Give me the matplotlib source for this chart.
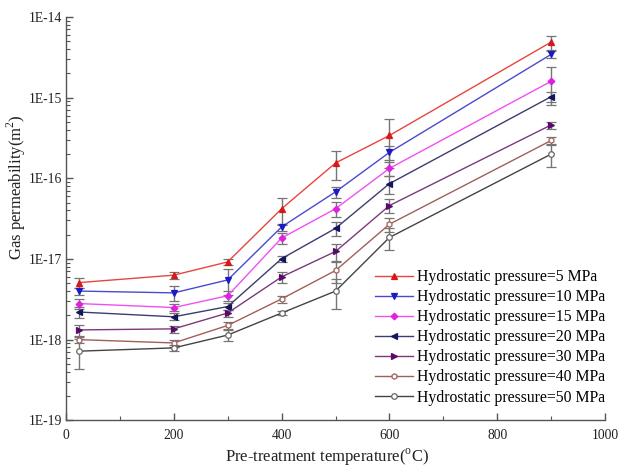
import numpy as np
import matplotlib
matplotlib.use("Agg")
from matplotlib import pyplot as plt
from matplotlib.ticker import LogLocator, FuncFormatter, MultipleLocator, NullFormatter

# Pre-treatment temperatures (degC)
temps = [25, 200, 300, 400, 500, 600, 900]

labels = ["Hydrostatic pressure=5 MPa", "Hydrostatic pressure=10 MPa",
          "Hydrostatic pressure=15 MPa", "Hydrostatic pressure=20 MPa",
          "Hydrostatic pressure=30 MPa", "Hydrostatic pressure=40 MPa",
          "Hydrostatic pressure=50 MPa"]

# gas permeability (m^2)
k_5 = [5.1e-18, 6.3e-18, 9.2e-18, 4.2e-17, 1.55e-16, 3.4e-16, 4.9e-15]
k_10 = [4.0e-18, 3.8e-18, 5.5e-18, 2.5e-17, 6.8e-17, 2.1e-16, 3.45e-15]
k_15 = [2.8e-18, 2.5e-18, 3.5e-18, 1.82e-17, 4.2e-17, 1.33e-16, 1.6e-15]
k_20 = [2.2e-18, 1.92e-18, 2.57e-18, 1.01e-17, 2.4e-17, 8.6e-17, 1.03e-15]
k_30 = [1.32e-18, 1.36e-18, 2.14e-18, 6.0e-18, 1.24e-17, 4.6e-17, 4.6e-16]
k_40 = [1.0e-18, 9.1e-19, 1.5e-18, 3.2e-18, 7.2e-18, 2.7e-17, 2.95e-16]
k_50 = [7.2e-19, 7.9e-19, 1.14e-18, 2.14e-18, 4.0e-18, 1.85e-17, 2.0e-16]

# relative error (fraction of value)
e_5 = [0.15, 0.1, 0.08, 0.37, 0.39, 0.6, 0.2]
e_10 = [0.1, 0.2, 0.35, 0.1, 0.15, 0.2, 0.1]
e_15 = [0.15, 0.1, 0.15, 0.15, 0.2, 0.2, 0.5]
e_20 = [0.15, 0.1, 0.1, 0.08, 0.2, 0.25, 0.15]
e_30 = [0.15, 0.1, 0.1, 0.15, 0.25, 0.2, 0.1]
e_40 = [0.08, 0.1, 0.1, 0.1, 0.3, 0.2, 0.1]
e_50 = [0.4, 0.08, 0.15, 0.05, 0.4, 0.3, 0.3]

series = [k_5, k_10, k_15, k_20, k_30, k_40, k_50]
errors = [e_5, e_10, e_15, e_20, e_30, e_40, e_50]
line_colors = ["#e8453c", "#4a4ad0", "#f050f0", "#3c3c70", "#7a3a7a", "#a0605a", "#444444"]
mk_colors = ["#d81818", "#1a1ac8", "#e020e0", "#141460", "#5a0a6a", "#a0605a", "#666666"]
markers = ["^", "v", "D", "<", ">", "h", "o"]
filled = [True, True, True, True, True, False, False]

plt.rcParams['font.family'] = ['Liberation Serif', 'DejaVu Serif']
plt.rcParams['mathtext.fontset'] = 'custom'
plt.rcParams['mathtext.rm'] = 'Liberation Serif'

fig = plt.figure(figsize=(6.22, 4.67), dpi=100)
ax = fig.add_axes([0.106, 0.1, 0.867, 0.8636])

for k, e, lc, mc, m, f, lab in zip(series, errors, line_colors, mk_colors, markers, filled, labels):
    k = np.array(k)
    err = k * np.array(e)
    ax.errorbar(temps, k, yerr=err, color=lc, ecolor="#757575", elinewidth=1.0,
                capsize=3.5, capthick=1.0, lw=1.0, marker=m,
                markersize=4 if m != "D" else 3.4,
                markerfacecolor=mc if f else "white", markeredgecolor=mc,
                markeredgewidth=0.9, label=lab)

ax.set_yscale("log")
ax.set_xlim(0, 1000)
ax.set_ylim(1e-19, 1e-14)
ax.xaxis.set_major_locator(MultipleLocator(200))
ax.xaxis.set_minor_locator(MultipleLocator(100))
ax.yaxis.set_major_locator(LogLocator(base=10, numticks=10))
ax.yaxis.set_minor_locator(LogLocator(base=10, subs=np.arange(2, 10), numticks=20))
ax.yaxis.set_minor_formatter(NullFormatter())
ax.yaxis.set_major_formatter(FuncFormatter(lambda v, p: "1E%d" % int(round(np.log10(v)))))

for s in ["top", "right"]:
    ax.spines[s].set_visible(False)
for s in ["left", "bottom"]:
    ax.spines[s].set_color("#555555")
    ax.spines[s].set_linewidth(1.0)

ax.tick_params(which="major", direction="in", length=5, width=1, colors="#555555",
               labelcolor="#222222", labelsize=9.8)
ax.tick_params(which="minor", direction="in", length=3, width=0.8, colors="#555555")
ax.tick_params(axis="x", pad=6)
ax.tick_params(axis="y", pad=3)

ax.set_xlabel(r"Pre-treatment temperature($^{\mathrm{o}}$C)", fontsize=12, color="#222222")
ax.set_ylabel(r"Gas permeability(m$^{2}$)", fontsize=12, color="#222222")
ax.xaxis.set_label_coords(0.485, -0.066)
ax.yaxis.set_label_coords(-0.07, 0.579)

handles, labs = ax.get_legend_handles_labels()
handles = [h[0] for h in handles]
ax.legend(handles, labs, loc="upper left", frameon=False, fontsize=11.3,
          handlelength=2.4, handletextpad=0.3, labelspacing=0.26, numpoints=1,
          bbox_to_anchor=(0.573, 0.375), borderpad=0, borderaxespad=0)

fig.savefig("out.png", dpi=100)
